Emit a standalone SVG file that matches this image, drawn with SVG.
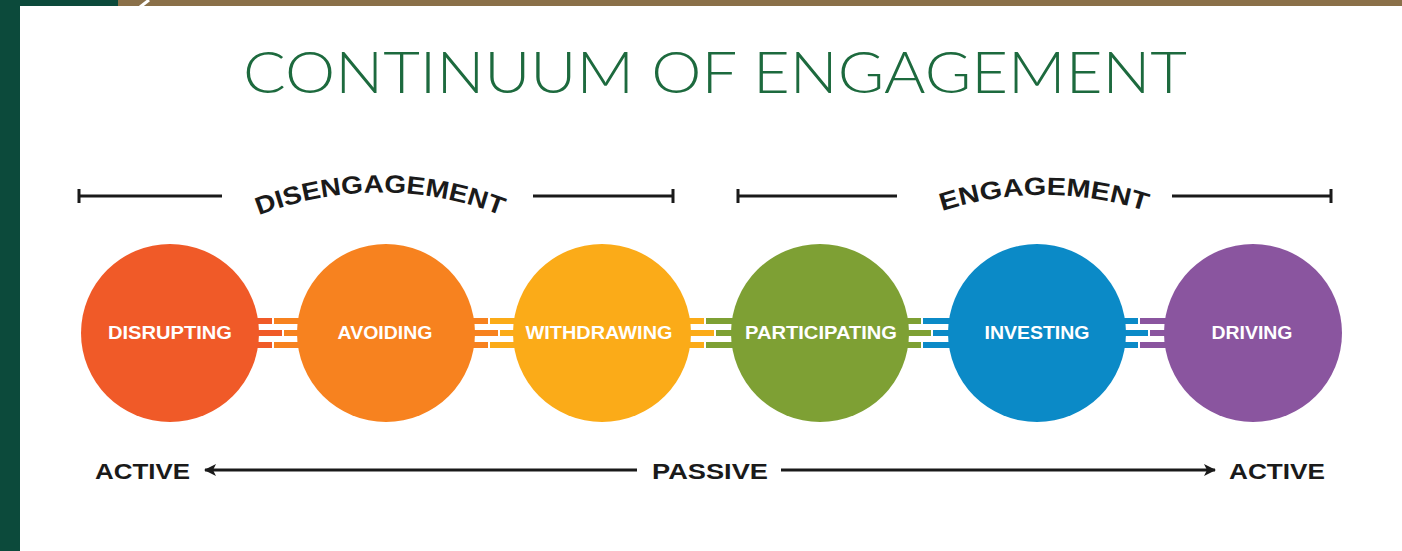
<svg xmlns="http://www.w3.org/2000/svg" width="1402" height="551" viewBox="0 0 1402 551">
<style>
.title{font-family:Lato,"Open Sans",sans-serif;font-weight:300;font-size:58px;fill:#1d6a3e}
.arc{font-family:"Liberation Sans",Arial,sans-serif;font-weight:bold;font-size:25px;fill:#1a1a1a}
.lbl{font-family:"Liberation Sans",Arial,sans-serif;font-weight:bold;font-size:19px;fill:#ffffff;text-anchor:middle}
.ax{font-family:"Liberation Sans",Arial,sans-serif;font-weight:bold;font-size:22px;fill:#1a1a1a}
.rule{stroke:#1a1a1a;stroke-width:3;fill:none}
</style>
<defs>
<marker id="ah" viewBox="0 0 12 12" refX="11" refY="6" markerWidth="12" markerHeight="12" markerUnits="userSpaceOnUse" orient="auto-start-reverse">
<path d="M0,0 L12,6 L0,12 L3,6 Z" fill="#1a1a1a"/>
</marker>
<path id="arcDis" d="M 248,220 A 330 330 0 0 1 512,220"/>
<path id="arcEng" d="M 928,216 A 330 330 0 0 1 1160,216"/>
</defs>
<rect x="0" y="0" width="1402" height="551" fill="#ffffff"/>
<rect x="0" y="0" width="20" height="551" fill="#0c4a3b"/>
<rect x="0" y="0" width="118" height="6" fill="#0c4a3b"/>
<rect x="118" y="0" width="1284" height="6" fill="#8a7049"/>
<line x1="149" y1="0" x2="140" y2="7" stroke="#ffffff" stroke-width="3"/>

<text class="title" x="715" y="93" text-anchor="middle" textLength="944" lengthAdjust="spacingAndGlyphs">CONTINUUM OF ENGAGEMENT</text>

<g id="disengagement">
<path class="rule" d="M79,196 H222 M79,189 V203 M533,196 H673 M673,189 V203"/>
<text class="arc"><textPath href="#arcDis" startOffset="50%" text-anchor="middle" textLength="248" lengthAdjust="spacingAndGlyphs">DISENGAGEMENT</textPath></text>
</g>
<g id="engagement">
<path class="rule" d="M738,196 H897 M738,189 V203 M1172,196 H1331 M1331,189 V203"/>
<text class="arc"><textPath href="#arcEng" startOffset="50%" text-anchor="middle" textLength="207" lengthAdjust="spacingAndGlyphs">ENGAGEMENT</textPath></text>
</g>

<g id="connectors">
<g transform="translate(278,0)">
<rect x="-30" y="318" width="24" height="6" fill="#f05a28"/><rect x="-4" y="318" width="34" height="6" fill="#f7821f"/>
<rect x="-30" y="330" width="34" height="6" fill="#f05a28"/><rect x="6" y="330" width="24" height="6" fill="#f7821f"/>
<rect x="-30" y="342" width="24" height="6" fill="#f05a28"/><rect x="-4" y="342" width="34" height="6" fill="#f7821f"/>
</g>
<g transform="translate(494,0)">
<rect x="-30" y="318" width="24" height="6" fill="#f7821f"/><rect x="-4" y="318" width="34" height="6" fill="#fbab18"/>
<rect x="-30" y="330" width="34" height="6" fill="#f7821f"/><rect x="6" y="330" width="24" height="6" fill="#fbab18"/>
<rect x="-30" y="342" width="24" height="6" fill="#f7821f"/><rect x="-4" y="342" width="34" height="6" fill="#fbab18"/>
</g>
<g transform="translate(710,0)">
<rect x="-30" y="318" width="24" height="6" fill="#fbab18"/><rect x="-4" y="318" width="34" height="6" fill="#7ea034"/>
<rect x="-30" y="330" width="34" height="6" fill="#fbab18"/><rect x="6" y="330" width="24" height="6" fill="#7ea034"/>
<rect x="-30" y="342" width="24" height="6" fill="#fbab18"/><rect x="-4" y="342" width="34" height="6" fill="#7ea034"/>
</g>
<g transform="translate(927,0)">
<rect x="-30" y="318" width="24" height="6" fill="#7ea034"/><rect x="-4" y="318" width="34" height="6" fill="#0b8ac7"/>
<rect x="-30" y="330" width="34" height="6" fill="#7ea034"/><rect x="6" y="330" width="24" height="6" fill="#0b8ac7"/>
<rect x="-30" y="342" width="24" height="6" fill="#7ea034"/><rect x="-4" y="342" width="34" height="6" fill="#0b8ac7"/>
</g>
<g transform="translate(1144,0)">
<rect x="-30" y="318" width="24" height="6" fill="#0b8ac7"/><rect x="-4" y="318" width="34" height="6" fill="#8a559f"/>
<rect x="-30" y="330" width="34" height="6" fill="#0b8ac7"/><rect x="6" y="330" width="24" height="6" fill="#8a559f"/>
<rect x="-30" y="342" width="24" height="6" fill="#0b8ac7"/><rect x="-4" y="342" width="34" height="6" fill="#8a559f"/>
</g>
<line class="rule" x1="637" y1="470" x2="205" y2="470" marker-end="url(#ah)"/>
<line class="rule" x1="781" y1="470" x2="1215" y2="470" marker-end="url(#ah)"/>
</g>

<g id="disrupting"><circle cx="170" cy="333" r="89" fill="#f05a28"/><text class="lbl" x="170" y="339" textLength="124" lengthAdjust="spacingAndGlyphs">DISRUPTING</text></g>
<g id="avoiding"><circle cx="386" cy="333" r="89" fill="#f7821f"/><text class="lbl" x="385" y="339" textLength="95" lengthAdjust="spacingAndGlyphs">AVOIDING</text></g>
<g id="withdrawing"><circle cx="602" cy="333" r="89" fill="#fbab18"/><text class="lbl" x="599" y="339" textLength="147" lengthAdjust="spacingAndGlyphs">WITHDRAWING</text></g>
<g id="participating"><circle cx="820" cy="333" r="89" fill="#7ea034"/><text class="lbl" x="821" y="339" textLength="152" lengthAdjust="spacingAndGlyphs">PARTICIPATING</text></g>
<g id="investing"><circle cx="1037" cy="333" r="89" fill="#0b8ac7"/><text class="lbl" x="1037" y="339" textLength="105" lengthAdjust="spacingAndGlyphs">INVESTING</text></g>
<g id="driving"><circle cx="1253" cy="333" r="89" fill="#8a559f"/><text class="lbl" x="1252" y="339" textLength="81" lengthAdjust="spacingAndGlyphs">DRIVING</text></g>

<text class="ax" x="95" y="479" textLength="95" lengthAdjust="spacingAndGlyphs">ACTIVE</text>
<text class="ax" x="652" y="479" textLength="116" lengthAdjust="spacingAndGlyphs">PASSIVE</text>
<text class="ax" x="1229" y="479" textLength="96" lengthAdjust="spacingAndGlyphs">ACTIVE</text>
</svg>
